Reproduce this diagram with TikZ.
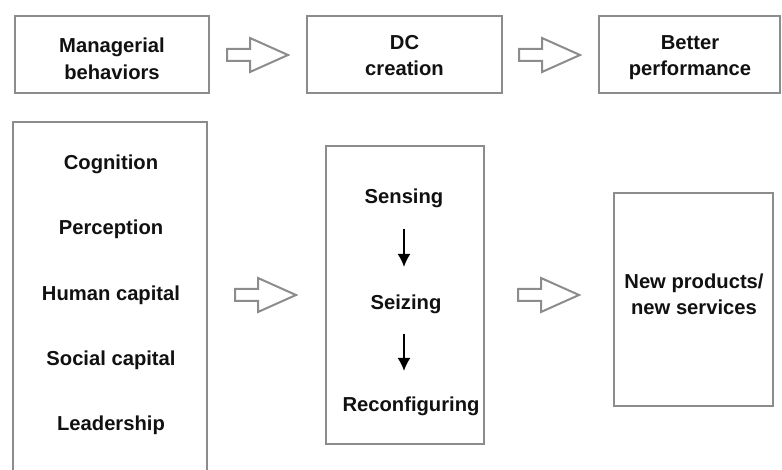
\documentclass[tikz,border=0pt]{standalone}
\usepackage{fontspec}
\setmainfont{Liberation Sans}
\usetikzlibrary{arrows.meta}
\definecolor{boxgray}{HTML}{8C8C8E}
\definecolor{txt}{HTML}{111111}
\begin{document}
\begin{tikzpicture}[x=1pt,y=-1pt,
  box/.style={draw=boxgray,line width=2.4pt,inner sep=0pt},
  lbl/.style={font=\fontsize{20.2}{26}\selectfont\bfseries,text=txt,align=center,inner sep=0pt,anchor=base},
  hollow/.pic={\draw[boxgray,line width=2pt,line join=miter,fill=white]
     (0,-6) -- (23,-6) -- (23,-17) -- (61,0) -- (23,17) -- (23,6) -- (0,6) -- cycle;},
  flow/.style={-{Latex[length=13pt,width=13pt]},line width=1.9pt,black}]
\useasboundingbox (0,0) rectangle (782,470);
% top row
\node[box,minimum width=194pt,minimum height=77pt] (mb) at (112,54.5) {};
\node[lbl,font=\fontsize{20.2}{27.5}\selectfont\bfseries] (mbt) at (112,80) {Managerial\\behaviors};
\node[box,minimum width=195pt,minimum height=77pt] (dc) at (404.5,54.5) {};
\node[lbl] (dct) at (404.5,76) {DC\\creation};
\node[box,minimum width=181pt,minimum height=77pt] (bp) at (689.5,54.5) {};
\node[lbl] (bpt) at (690,76) {Better\\performance};
\pic at (227,55) {hollow};
\pic at (519,55) {hollow};
% bottom left box (open at bottom)
\coordinate (la) at (13,474);
\coordinate (lb) at (13,122);
\coordinate (lc) at (207,122);
\coordinate (ld) at (207,474);
\draw[boxgray,line width=2.4pt] (la) -- (lb) -- (lc) -- (ld);
\node[lbl] (cog) at (111,169.5) {Cognition};
\node[lbl] (per) at (111,234.5) {Perception};
\node[lbl] (hum) at (111,300.5) {Human capital};
\node[lbl] (soc) at (111,365.5) {Social capital};
\node[lbl] (lea) at (111,430.5) {Leadership};
\pic at (235,295) {hollow};
% middle box
\node[box,minimum width=158pt,minimum height=298pt] (mid) at (405,295) {};
\node[lbl] (sen) at (404,204) {Sensing};
\node[lbl] (sei) at (406,309.3) {Seizing};
\node[lbl] (rec) at (411,411) {Reconfiguring};
\coordinate (a1s) at (404,229);
\coordinate (a1e) at (404,267);
\coordinate (a2s) at (404,334);
\coordinate (a2e) at (404,371);
\draw[flow] (a1s) -- (a1e);
\draw[flow] (a2s) -- (a2e);
\pic at (518,295) {hollow};
% right box
\node[box,minimum width=159pt,minimum height=213pt] (np) at (693.5,299.5) {};
\node[lbl] (npt) at (694,315) {New products/\\new services};
\end{tikzpicture}
\end{document}
